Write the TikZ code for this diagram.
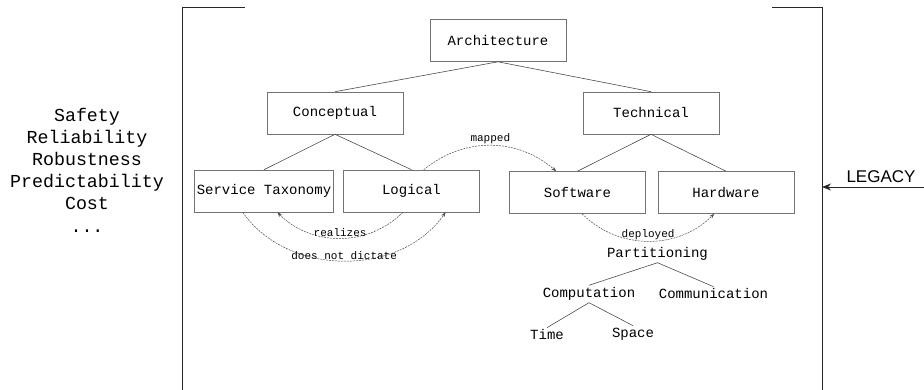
\documentclass[tikz,border=0pt]{standalone}
\usepackage{fontspec}
\setmonofont{Liberation Mono}
\setsansfont{Liberation Sans}
\usepackage{tikz}
\usetikzlibrary{arrows.meta}
\tikzset{>=latex}
\tikzstyle{block}=[draw=black!55,line width=0.6,minimum width=136,minimum height=42,inner sep=2,
                   font=\ttfamily\fontsize{14}{17}\selectfont]
\tikzstyle{leaf}=[inner sep=2,font=\ttfamily\fontsize{14}{17}\selectfont]
\tikzstyle{branch}=[black!70,line width=0.6]
\tikzstyle{bracket}=[black!85,line width=0.8]
\tikzstyle{relation}=[-{Stealth[length=5,width=3.5]},black!70,line width=0.5,dash pattern=on 2pt off 1pt]
\tikzstyle{rellabel}=[sloped,above,inner sep=1.5,text=black,font=\ttfamily\fontsize{11}{13}\selectfont]

\begin{document}
\begin{tikzpicture}[x=1pt,y=1pt]
  \useasboundingbox (0,0) rectangle (924,390);

  % BRACKETS
  \draw[bracket] (245,383) -- (182,383) -- (182,0);
  \draw[bracket] (772,383) -- (822,383) -- (822,0);

  % QUALITIES
  \node[align=center,font=\ttfamily\fontsize{18.3}{22.2}\selectfont] (qualities) at (87,220)
    {Safety\\Reliability\\Robustness\\Predictability\\Cost\\...};

  % LEGACY
  \coordinate (legacy) at (924,203);
  \coordinate (border) at (822,203);
  \draw[bracket,-{Stealth[length=9,width=7]}] (legacy) -- (border);
  \node[font=\sffamily\fontsize{17}{20}\selectfont] (legacylabel) at (881,213) {LEGACY};

  % TREE
  \node[block] (arch)     at (498,349.5) {Architecture};
  \node[block] (concept)  at (335,277)   {Conceptual};
  \node[block] (tech)     at (651,277)   {Technical};
  \node[block] (service)  at (264,199)   {Service Taxonomy};
  \node[block] (logical)  at (411.5,199) {Logical};
  \node[block] (software) at (577.5,197.5) {Software};
  \node[block] (hardware) at (726,197.5) {Hardware};

  \node[leaf] (part)  at (657.5,136) {Partitioning};
  \node[leaf] (comp)  at (589,96)    {Computation};
  \node[leaf] (comm)  at (713.5,96)  {Communication};
  \node[leaf] (time)  at (547,55)    {Time};
  \node[leaf] (space) at (633,56)    {Space};

  \draw[branch] (arch.south) -- (concept.north);
  \draw[branch] (arch.south) -- (tech.north);
  \draw[branch] (concept.south) -- (service.north);
  \draw[branch] (concept.south) -- (logical.north);
  \draw[branch] (tech.south) -- (software.north);
  \draw[branch] (tech.south) -- (hardware.north);
  \draw[branch] (part.south) -- (comp.north);
  \draw[branch] (part.south) -- (comm.north);
  \draw[branch] (comp.south) -- (time.north);
  \draw[branch] (comp.south) -- (space.north);

  % RELATIONS
  \draw[relation] (logical.60) to[bend left=40] node[rellabel] {mapped} (software.135);
  \draw[relation] (logical.248) to[bend left=45] node[rellabel] {realizes} (service.302);
  \draw[relation] (service.225) to[bend right=55] node[rellabel] {does not dictate} (logical.-32);
  \draw[relation] (software.282) to[bend right=45] node[rellabel] {deployed} (hardware.241);

\end{tikzpicture}
\end{document}
